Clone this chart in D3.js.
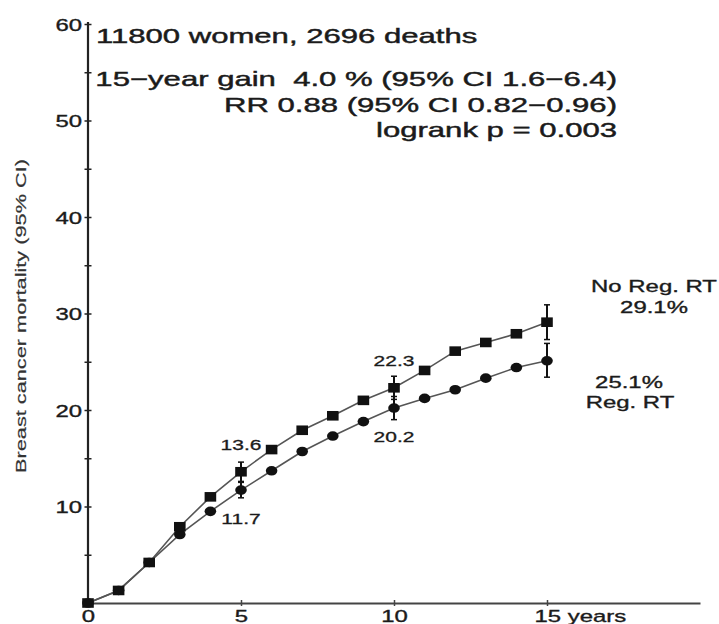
<!DOCTYPE html>
<html>
<head>
<meta charset="utf-8">
<script src="https://cdn.jsdelivr.net/npm/d3@7/dist/d3.min.js"></script>
<style>
  html, body { margin: 0; padding: 0; background: #fff; }
  svg { display: block; font-family: "Liberation Sans", Arial, Helvetica, sans-serif; }
  svg text { white-space: pre; }
</style>
</head>
<body>
<svg id="chart" width="719" height="624"></svg>
<script>
// Cumulative breast cancer mortality (%) by year since randomisation
const years = d3.range(0, 16);
const noRegRT = [0, 1.3, 4.2, 7.9, 11.0, 13.6, 15.9, 17.9, 19.4, 21.0, 22.3, 24.1, 26.1, 27.0, 27.9, 29.1];
const regRT   = [0, 1.3, 4.2, 7.1, 9.5, 11.7, 13.7, 15.7, 17.3, 18.8, 20.2, 21.2, 22.1, 23.3, 24.4, 25.1];

// 95% confidence intervals shown at 5, 10 and 15 years
const ciYears = [5, 10, 15];
const noRegCI = [[12.6, 14.6], [21.1, 23.5], [27.3, 30.9]];
const regCI   = [[10.9, 12.5], [19.0, 21.4], [23.4, 26.9]];

// Values printed beside the curves
const labelYears = [5, 10];

const yTicks = d3.range(0, 61, 5);
const yTickLabels = [10, 20, 30, 40, 50, 60];
const xTicks = [0, 5, 10, 15];

const headerLines = [
  "15\u2212year gain  4.0 % (95% CI 1.6\u22126.4)",
  "RR 0.88 (95% CI 0.82\u22120.96)",
  "logrank p = 0.003"
];

const ink = "#1b1b1b";
const SX = 1.45; // wide lettering

const svg = d3.select("#chart");

const x = d3.scaleLinear().domain([0, 20]).range([88, 700]);
const y = d3.scaleLinear().domain([0, 60]).range([603, 24]);

// helper: horizontally widened text with a slightly heavy stroke
function wideText(parent, px, py, str, size, anchor, sx, sw) {
  const s = sx || SX;
  return parent.append("text")
    .attr("transform", `translate(${px},${py}) scale(${s},1)`)
    .attr("text-anchor", anchor || "start")
    .attr("font-size", size)
    .attr("fill", ink)
    .attr("stroke", ink)
    .attr("stroke-width", sw === undefined ? 0.45 : sw)
    .text(str);
}

// ---- axes ----
const xAxis = svg.append("g")
  .attr("transform", `translate(0,${y(0)})`)
  .call(d3.axisBottom(x).tickValues(xTicks).tickSizeOuter(0)
    .tickFormat(d => d === 15 ? "15 years" : d));
xAxis.select(".domain").attr("stroke", "#444").attr("stroke-width", 2.2);
xAxis.selectAll(".tick line").attr("y1", -3).attr("y2", 3).attr("stroke", "#444").attr("stroke-width", 1.5);
xAxis.selectAll(".tick text")
  .attr("font-size", 16.5)
  .attr("fill", ink)
  .attr("stroke", ink).attr("stroke-width", 0.35)
  .attr("y", null).attr("dy", null)
  .attr("transform", `translate(0,19) scale(${SX},1)`)
  .attr("text-anchor", d => d === 15 ? "start" : "middle")
  .attr("x", d => d === 15 ? -13 / SX : 0);

const yAxis = svg.append("g")
  .attr("transform", `translate(${x(0)},0)`)
  .call(d3.axisLeft(y).tickValues(yTicks).tickSizeOuter(0)
    .tickFormat(d => yTickLabels.includes(d) ? d : ""));
yAxis.select(".domain").attr("stroke", "#222").attr("stroke-width", 2.2)
  .attr("d", `M0,${y(0)}V${y(60) - 2}`);
yAxis.selectAll(".tick line").attr("x1", -3.5).attr("x2", 3.5).attr("stroke", "#222").attr("stroke-width", 1.5);
yAxis.selectAll(".tick text")
  .attr("font-size", 16.5)
  .attr("fill", ink)
  .attr("stroke", ink).attr("stroke-width", 0.35)
  .attr("x", -6 / SX)
  .attr("dy", "0.38em")
  .attr("transform", `scale(${SX},1)`);

// y axis title
svg.append("text")
  .attr("transform", `translate(21,316) rotate(-90) scale(${SX},1)`)
  .attr("text-anchor", "middle")
  .attr("dy", "0.35em")
  .attr("font-size", 15)
  .attr("fill", "#333")
  .attr("stroke", "#333").attr("stroke-width", 0.2)
  .text("Breast cancer mortality (95% CI)");

// ---- curves ----
const line = d3.line().x((d, i) => x(years[i])).y(d => y(d));
const plot = svg.append("g");

[regRT, noRegRT].forEach(series => {
  plot.append("path")
    .datum(series)
    .attr("d", line)
    .attr("fill", "none")
    .attr("stroke", "#555")
    .attr("stroke-width", 1.6);
});

// confidence interval bars
function ciBars(ci) {
  ci.forEach((c, i) => {
    const cx = x(ciYears[i]);
    plot.append("line").attr("x1", cx).attr("x2", cx)
      .attr("y1", y(c[0])).attr("y2", y(c[1]))
      .attr("stroke", "#111").attr("stroke-width", 2);
    c.forEach(v => {
      plot.append("line").attr("x1", cx - 3).attr("x2", cx + 3)
        .attr("y1", y(v)).attr("y2", y(v))
        .attr("stroke", "#111").attr("stroke-width", 1.5);
    });
  });
}
ciBars(noRegCI);
ciBars(regCI);

// circles: regional RT
plot.selectAll(".reg").data(regRT).enter().append("ellipse")
  .attr("cx", (d, i) => x(years[i])).attr("cy", d => y(d))
  .attr("rx", 5.8).attr("ry", 4.8)
  .attr("fill", "#111");

// squares: no regional RT
plot.selectAll(".noreg").data(noRegRT).enter().append("rect")
  .attr("x", (d, i) => x(years[i]) - 5.8).attr("y", d => y(d) - 4.8)
  .attr("width", 11.6).attr("height", 9.6)
  .attr("fill", "#111");

// values beside the curves at 5 and 10 years
labelYears.forEach(yr => {
  wideText(svg, x(yr), y(noRegRT[yr]) - 22, noRegRT[yr].toFixed(1), 15, "middle", 1.4, 0.3);
  wideText(svg, x(yr), y(regRT[yr]) + 34, regRT[yr].toFixed(1), 15, "middle", 1.4, 0.3);
});

// end-of-curve labels
const last = years.length - 1;
wideText(svg, x(15) + 107, y(noRegRT[last]) - 30, "No Reg. RT", 16.5, "middle", SX, 0.35);
wideText(svg, x(15) + 107, y(noRegRT[last]) - 9, noRegRT[last].toFixed(1) + "%", 16.5, "middle", SX, 0.35);
wideText(svg, x(15) + 82, y(regRT[last]) + 27, regRT[last].toFixed(1) + "%", 16.5, "middle", SX, 0.35);
wideText(svg, x(15) + 83, y(regRT[last]) + 47, "Reg. RT", 16.5, "middle", SX, 0.35);

// header annotations
wideText(svg, 96, 43, "11800 women, 2696 deaths", 21, "start", 1.48);
headerLines.forEach((t, i) => {
  wideText(svg, 617, 86 + i * 25.5, t, 21, "end", 1.48);
});
</script>
</body>
</html>
